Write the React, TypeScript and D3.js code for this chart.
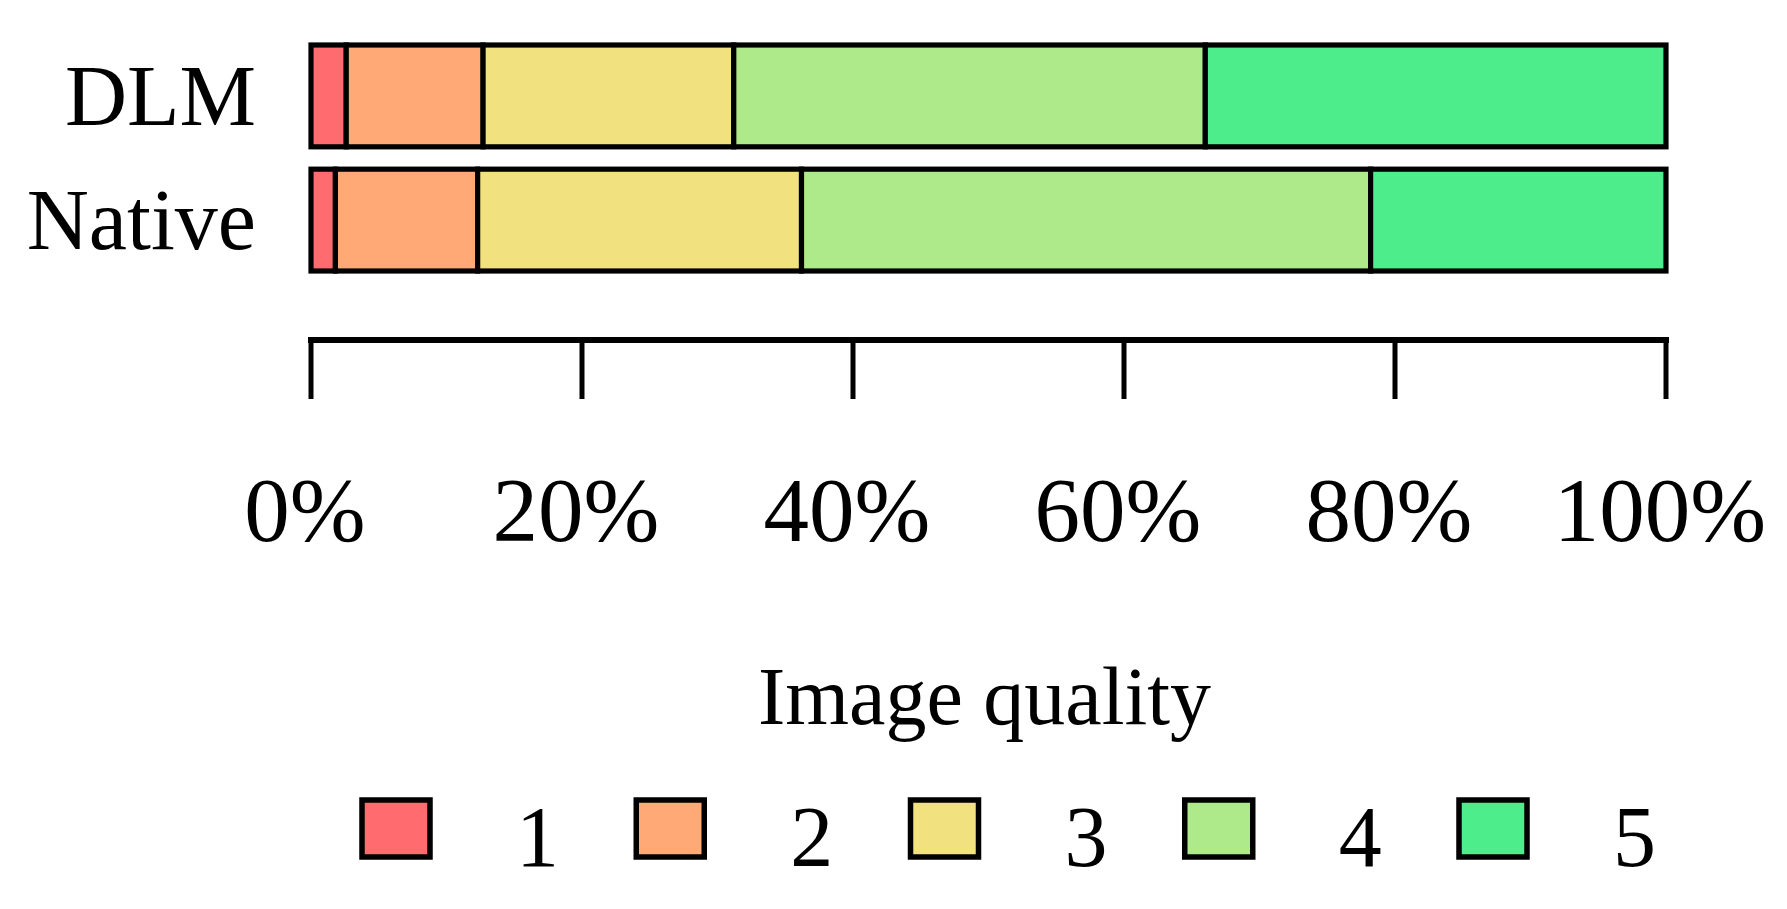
import React from "react";
import * as d3 from "d3";

const categories = ["DLM", "Native"];
const levels = ["1", "2", "3", "4", "5"];
const dlmValues = [2.6, 10.1, 18.5, 34.8, 34.0];
const nativeValues = [1.8, 10.5, 23.9, 42.0, 21.8];
const seriesByCategory = [dlmValues, nativeValues];
const colors = ["#ff6b6f", "#ffa977", "#f1e27f", "#aeea8a", "#4ded8c"];
const xTicks = [0, 20, 40, 60, 80, 100];
const xTickLabels = ["0%", "20%", "40%", "60%", "80%", "100%"];
const axisTitle = "Image quality";

const FONT = "'Liberation Serif', 'Times New Roman', serif";

export default function App() {
  const W = 1787;
  const H = 909;
  const x = d3.scaleLinear().domain([0, 100]).range([311, 1666]);
  const y = d3.scaleBand<string>().domain(categories).range([45, 271]).paddingInner(0.18).paddingOuter(0);
  const sw = 5.2;

  const rows = categories.map((c, i) => {
    const vals = seriesByCategory[i];
    const total = d3.sum(vals);
    const norm = vals.map((v) => (v / total) * 100);
    const cum = d3.cumsum(norm);
    return norm.map((v, j) => ({ cat: c, level: levels[j], x0: cum[j] - v, x1: cum[j], color: colors[j] }));
  });

  const axisY = 340;
  const tickLen = 59;
  const legendX = d3.scalePoint<string>().domain(levels).range([362, 1459]);

  return (
    <svg width={W} height={H} style={{ position: "absolute", left: 0, top: 0, background: "#fff" }}>
      {rows.map((segs) =>
        segs.map((s) => (
          <rect
            key={s.cat + s.level}
            x={x(s.x0)}
            y={y(s.cat)!}
            width={x(s.x1) - x(s.x0)}
            height={y.bandwidth()}
            fill={s.color}
            stroke="#000"
            strokeWidth={sw}
          />
        ))
      )}
      {categories.map((c) => (
        <text
          key={c}
          x={256}
          y={y(c)! + y.bandwidth() / 2 + 29}
          textAnchor="end"
          fontFamily={FONT}
          fontSize={86}
          fill="#000"
        >
          {c}
        </text>
      ))}
      <line x1={x(0)} x2={x(100)} y1={axisY} y2={axisY} stroke="#000" strokeWidth={6} strokeLinecap="square" />
      {xTicks.map((t, i) => (
        <g key={t}>
          <line x1={x(t)} x2={x(t)} y1={axisY} y2={axisY + tickLen} stroke="#000" strokeWidth={5} />
          <text x={x(t) - 6} y={541} textAnchor="middle" fontFamily={FONT} fontSize={91} fill="#000">
            {xTickLabels[i]}
          </text>
        </g>
      ))}
      <text x={(x(0) + x(100)) / 2 - 4} y={724} textAnchor="middle" fontFamily={FONT} fontSize={82} fill="#000">
        {axisTitle}
      </text>
      {levels.map((l, j) => (
        <g key={l}>
          <rect x={legendX(l)!} y={800} width={68} height={57} fill={colors[j]} stroke="#000" strokeWidth={5.5} />
          <text x={legendX(l)! + 154} y={866} fontFamily={FONT} fontSize={86} fill="#000">
            {l}
          </text>
        </g>
      ))}
    </svg>
  );
}
